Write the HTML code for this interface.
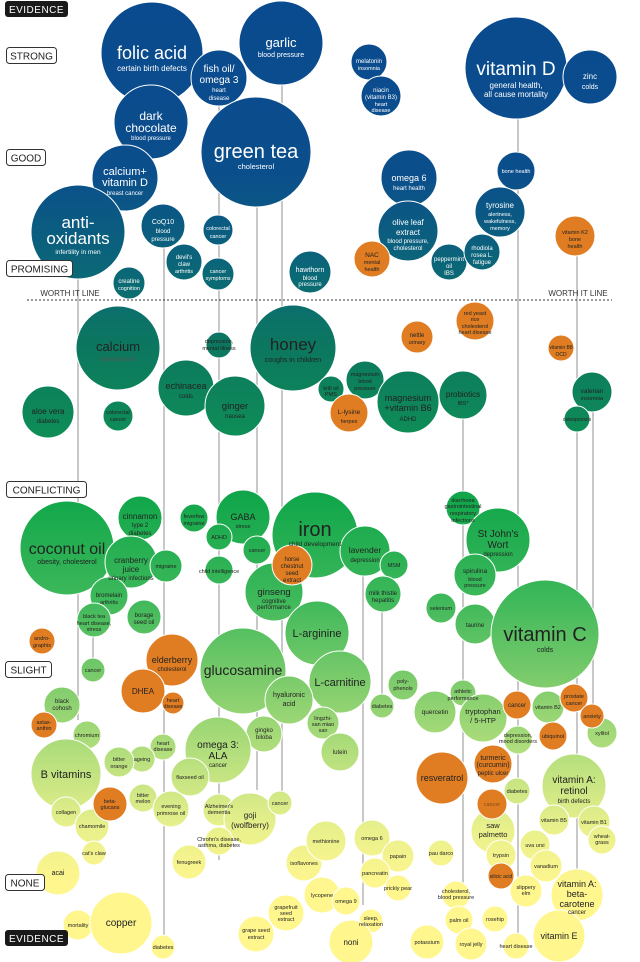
<!DOCTYPE html>
<html><head><meta charset="utf-8"><style>
html,body{margin:0;padding:0;background:#fff}
svg{display:block}
text{font-family:"Liberation Sans",sans-serif;text-anchor:middle}
.w{fill:#fff}.d{fill:#222}.g{fill:#555}
.ln{stroke:#aaa;stroke-width:1.3}
.o{fill:#e07d22}
.c{fill:url(#gr)}
</style></head><body>
<svg width="640" height="962" viewBox="0 0 640 962" xmlns="http://www.w3.org/2000/svg">
<defs><linearGradient id="gr" gradientUnits="userSpaceOnUse" x1="0" y1="0" x2="0" y2="962">
<stop offset="0" stop-color="#0a4a8e"/>
<stop offset="0.18" stop-color="#0b4e8c"/>
<stop offset="0.25" stop-color="#0b5f7e"/>
<stop offset="0.31" stop-color="#0b6e70"/>
<stop offset="0.36" stop-color="#0c775f"/>
<stop offset="0.44" stop-color="#0e8a58"/>
<stop offset="0.52" stop-color="#12a74b"/>
<stop offset="0.62" stop-color="#3cb85a"/>
<stop offset="0.71" stop-color="#7ecc6c"/>
<stop offset="0.79" stop-color="#b8e07e"/>
<stop offset="0.86" stop-color="#e8f08c"/>
<stop offset="0.92" stop-color="#fff68e"/>
<stop offset="1" stop-color="#fff68e"/>
</linearGradient></defs>

<!-- vertical lines -->
<g class="ln">
<line x1="78" y1="232" x2="78" y2="720"/>
<line x1="93" y1="600" x2="93" y2="680"/>
<line x1="164" y1="230" x2="164" y2="945"/>
<line x1="219" y1="80" x2="219" y2="860"/>
<line x1="257" y1="150" x2="257" y2="790"/>
<line x1="282" y1="43" x2="282" y2="800"/>
<line x1="363" y1="550" x2="363" y2="905"/>
<line x1="382" y1="590" x2="382" y2="705"/>
<line x1="463" y1="395" x2="463" y2="900"/>
<line x1="518" y1="68" x2="518" y2="946"/>
<line x1="577" y1="236" x2="577" y2="895"/>
<line x1="593" y1="392" x2="593" y2="716"/>
<line x1="236" y1="730" x2="236" y2="770"/>
</g>

<!-- circles -->
<g class="c" stroke="#fff" stroke-width="1">
<circle cx="152" cy="53" r="51"/><circle cx="219" cy="78" r="28"/><circle cx="281" cy="43" r="42"/>
<circle cx="151" cy="122" r="37"/><circle cx="256" cy="152" r="55"/><circle cx="125" cy="178" r="33"/>
<circle cx="78" cy="232" r="47"/><circle cx="163" cy="226" r="22"/><circle cx="218" cy="230" r="15"/>
<circle cx="184" cy="262" r="18"/><circle cx="218" cy="274" r="16"/><circle cx="129" cy="283" r="16"/>
<circle cx="310" cy="272" r="21"/><circle cx="369" cy="62" r="18"/><circle cx="381" cy="96" r="20"/>
<circle cx="516" cy="68" r="51"/><circle cx="590" cy="77" r="27"/><circle cx="516" cy="171" r="19"/>
<circle cx="409" cy="178" r="28"/><circle cx="500" cy="212" r="25"/><circle cx="408" cy="231" r="30"/>
<circle cx="449" cy="262" r="18"/><circle cx="482" cy="252" r="18"/>
<circle cx="118" cy="348" r="42"/><circle cx="293" cy="348" r="43"/><circle cx="219" cy="345" r="13"/>
<circle cx="186" cy="388" r="28"/><circle cx="235" cy="406" r="30"/><circle cx="48" cy="412" r="26"/>
<circle cx="118" cy="416" r="15"/><circle cx="331" cy="389" r="13"/><circle cx="365" cy="380" r="19"/>
<circle cx="408" cy="402" r="31"/><circle cx="463" cy="395" r="24"/><circle cx="592" cy="392" r="20"/>
<circle cx="577" cy="419" r="13"/>
<circle cx="67" cy="548" r="47"/><circle cx="140" cy="518" r="22"/><circle cx="194" cy="518" r="14"/>
<circle cx="243" cy="517" r="27"/><circle cx="219" cy="537" r="13"/><circle cx="257" cy="550" r="14"/>
<circle cx="315" cy="535" r="43"/><circle cx="365" cy="551" r="25"/><circle cx="394" cy="565" r="14"/>
<circle cx="131" cy="562" r="26"/><circle cx="166" cy="566" r="16"/><circle cx="219" cy="570" r="14"/>
<circle cx="274" cy="592" r="29"/><circle cx="383" cy="594" r="18"/><circle cx="463" cy="508" r="17"/>
<circle cx="498" cy="540" r="32"/><circle cx="475" cy="575" r="21"/><circle cx="109" cy="596" r="19"/>
<circle cx="144" cy="617" r="17"/><circle cx="94" cy="620" r="17"/><circle cx="441" cy="608" r="15"/>
<circle cx="475" cy="624" r="20"/><circle cx="545" cy="634" r="54"/>
<circle cx="317" cy="633" r="32"/><circle cx="243" cy="671" r="43"/><circle cx="93" cy="670" r="12"/>
<circle cx="340" cy="682" r="31"/><circle cx="403" cy="685" r="15"/><circle cx="289" cy="700" r="24"/>
<circle cx="62" cy="705" r="18"/><circle cx="382" cy="706" r="12"/><circle cx="463" cy="693" r="13"/>
<circle cx="435" cy="712" r="21"/><circle cx="483" cy="718" r="24"/><circle cx="548" cy="707" r="16"/>
<circle cx="602" cy="733" r="15"/><circle cx="87" cy="735" r="14"/><circle cx="518" cy="740" r="14"/>
<circle cx="264" cy="734" r="18"/><circle cx="163" cy="747" r="13"/><circle cx="142" cy="759" r="13"/>
<circle cx="323" cy="723" r="16"/><circle cx="218" cy="750" r="33"/><circle cx="340" cy="752" r="19"/>
<circle cx="119" cy="762" r="15"/><circle cx="66" cy="774" r="35"/><circle cx="190" cy="777" r="19"/>
<circle cx="517" cy="791" r="13"/><circle cx="574" cy="786" r="32"/>
<circle cx="143" cy="798" r="14"/><circle cx="66" cy="812" r="15"/><circle cx="92" cy="826" r="17"/>
<circle cx="171" cy="809" r="18"/><circle cx="219" cy="810" r="16"/><circle cx="250" cy="819" r="26"/>
<circle cx="280" cy="803" r="12"/><circle cx="219" cy="841" r="14"/><circle cx="94" cy="853" r="12"/>
<circle cx="189" cy="862" r="17"/><circle cx="58" cy="873" r="22"/><circle cx="78" cy="925" r="15"/>
<circle cx="121" cy="923" r="31"/><circle cx="163" cy="947" r="12"/><circle cx="256" cy="934" r="18"/>
<circle cx="286" cy="913" r="18"/><circle cx="304" cy="863" r="18"/><circle cx="322" cy="895" r="18"/>
<circle cx="326" cy="841" r="20"/><circle cx="372" cy="838" r="18"/><circle cx="398" cy="856" r="16"/>
<circle cx="375" cy="873" r="15"/><circle cx="398" cy="888" r="13"/><circle cx="441" cy="853" r="13"/>
<circle cx="346" cy="901" r="14"/><circle cx="456" cy="895" r="14"/><circle cx="371" cy="921" r="12"/>
<circle cx="351" cy="942" r="22"/><circle cx="427" cy="942" r="17"/><circle cx="459" cy="920" r="14"/>
<circle cx="471" cy="944" r="16"/><circle cx="495" cy="919" r="13"/><circle cx="516" cy="946" r="13"/>
<circle cx="493" cy="831" r="22"/><circle cx="535" cy="845" r="15"/><circle cx="501" cy="855" r="15"/>
<circle cx="546" cy="866" r="16"/><circle cx="526" cy="891" r="16"/><circle cx="577" cy="895" r="26"/>
<circle cx="559" cy="936" r="26"/><circle cx="554" cy="820" r="15"/><circle cx="594" cy="822" r="16"/>
<circle cx="602" cy="840" r="14"/>
</g>
<g class="o" stroke="#fff" stroke-width="1">
<circle cx="372" cy="259" r="18"/><circle cx="575" cy="236" r="20"/><circle cx="475" cy="321" r="19"/>
<circle cx="417" cy="337" r="16"/><circle cx="561" cy="348" r="13"/><circle cx="349" cy="413" r="19"/>
<circle cx="292" cy="565" r="20"/><circle cx="42" cy="641" r="13"/><circle cx="172" cy="660" r="26"/>
<circle cx="143" cy="691" r="22"/><circle cx="173" cy="703" r="11"/><circle cx="44" cy="725" r="13"/>
<circle cx="517" cy="705" r="14"/><circle cx="574" cy="698" r="14"/><circle cx="592" cy="716" r="12"/>
<circle cx="553" cy="736" r="14"/><circle cx="442" cy="778" r="26"/><circle cx="493" cy="764" r="19"/>
<circle cx="492" cy="804" r="15"/><circle cx="110" cy="804" r="17"/><circle cx="501" cy="876" r="13"/>
</g>

<!-- worth it line -->
<line x1="27" y1="300" x2="612" y2="300" stroke="#333" stroke-width="1" stroke-dasharray="2,2"/>
<text x="70" y="296" style="font-size:8px;fill:#333">WORTH IT LINE</text>
<text x="578" y="296" style="font-size:8px;fill:#333">WORTH IT LINE</text>

<!-- axis labels -->
<rect x="5" y="1" width="63" height="16" rx="3" fill="#1a1a1a"/><text x="36.5" y="13" style="font-size:10px;fill:#fff;letter-spacing:.5px">EVIDENCE</text>
<rect x="6.5" y="47.5" width="50" height="16" rx="3" fill="#fff" stroke="#333"/><text x="31.5" y="59.5" style="font-size:10px;fill:#222">STRONG</text>
<rect x="6.5" y="149.5" width="39" height="16" rx="3" fill="#fff" stroke="#333"/><text x="26" y="161.5" style="font-size:10px;fill:#222">GOOD</text>
<rect x="6.5" y="260.5" width="66" height="16" rx="3" fill="#fff" stroke="#333"/><text x="39.5" y="272.5" style="font-size:10px;fill:#222">PROMISING</text>
<rect x="6.5" y="481.5" width="80" height="16" rx="3" fill="#fff" stroke="#333"/><text x="46.5" y="493.5" style="font-size:10px;fill:#222">CONFLICTING</text>
<rect x="5.5" y="661.5" width="46" height="16" rx="3" fill="#fff" stroke="#333"/><text x="28.5" y="673.5" style="font-size:10px;fill:#222">SLIGHT</text>
<rect x="5.5" y="874.5" width="39" height="16" rx="3" fill="#fff" stroke="#333"/><text x="25" y="886.5" style="font-size:10px;fill:#222">NONE</text>
<rect x="5" y="930" width="63" height="16" rx="3" fill="#1a1a1a"/><text x="36.5" y="942" style="font-size:10px;fill:#fff;letter-spacing:.5px">EVIDENCE</text>

<!-- labels: dark blue/teal zone -->
<g class="w">
<text x="152" y="59" font-size="18">folic acid</text><text x="152" y="71" font-size="8">certain birth defects</text>
<text x="219" y="72" font-size="10">fish oil/</text><text x="219" y="83" font-size="10">omega 3</text><text x="219" y="92" font-size="6">heart</text><text x="219" y="100" font-size="6">disease</text>
<text x="281" y="47" font-size="13">garlic</text><text x="281" y="57" font-size="7">blood pressure</text>
<text x="151" y="120" font-size="12">dark</text><text x="151" y="132" font-size="12">chocolate</text><text x="151" y="140" font-size="6">blood pressure</text>
<text x="256" y="158" font-size="20">green tea</text><text x="256" y="169" font-size="7.5">cholesterol</text>
<text x="125" y="175" font-size="11">calcium+</text><text x="125" y="186" font-size="11">vitamin D</text><text x="125" y="195" font-size="6">breast cancer</text>
<text x="78" y="228" font-size="17">anti-</text><text x="78" y="244" font-size="17">oxidants</text><text x="78" y="254" font-size="6.5">infertility in men</text>
<text x="163" y="224" font-size="7">CoQ10</text><text x="163" y="233" font-size="6">blood</text><text x="163" y="241" font-size="6">pressure</text>
<text x="218" y="230" font-size="5.5">colorectal</text><text x="218" y="238" font-size="5.5">cancer</text>
<text x="184" y="259" font-size="6">devil's</text><text x="184" y="266" font-size="6">claw</text><text x="184" y="273" font-size="5.5">arthritis</text>
<text x="218" y="273" font-size="5.5">cancer</text><text x="218" y="280" font-size="5.5">symptoms</text>
<text x="129" y="283" font-size="6">creatine</text><text x="129" y="290" font-size="5.5">cognition</text>
<text x="310" y="272" font-size="7">hawthorn</text><text x="310" y="280" font-size="6">blood</text><text x="310" y="286" font-size="6">pressure</text>
<text x="369" y="63" font-size="6">melatonin</text><text x="369" y="70" font-size="5.5">insomnia</text>
<text x="381" y="92" font-size="6">niacin</text><text x="381" y="99" font-size="6">(vitamin B3)</text><text x="381" y="106" font-size="5.5">heart</text><text x="381" y="112" font-size="5.5">disease</text>
<text x="516" y="75" font-size="19">vitamin D</text><text x="516" y="88" font-size="8">general health,</text><text x="516" y="97" font-size="8">all cause mortality</text>
<text x="590" y="79" font-size="8">zinc</text><text x="590" y="89" font-size="7">colds</text>
<text x="516" y="173" font-size="5.5">bone health</text>
<text x="409" y="181" font-size="9">omega 6</text><text x="409" y="190" font-size="6">heart health</text>
<text x="500" y="208" font-size="8">tyrosine</text><text x="500" y="216" font-size="5.5">alertness,</text><text x="500" y="223" font-size="5.5">wakefulness,</text><text x="500" y="230" font-size="5.5">memory</text>
<text x="408" y="225" font-size="8">olive leaf</text><text x="408" y="235" font-size="8">extract</text><text x="408" y="243" font-size="6">blood pressure,</text><text x="408" y="250" font-size="6">cholesterol</text>
<text x="449" y="261" font-size="6">peppermint</text><text x="449" y="268" font-size="6">oil</text><text x="449" y="275" font-size="6">IBS</text>
<text x="482" y="250" font-size="6">rhodiola</text><text x="482" y="257" font-size="6">rosea L.</text><text x="482" y="264" font-size="6">fatigue</text>
</g>
<g class="d">
<text x="372" y="257" font-size="6.5">NAC</text><text x="372" y="264" font-size="5.5">mental</text><text x="372" y="271" font-size="5.5">health</text>
<text x="575" y="234" font-size="5.5">vitamin K2</text><text x="575" y="241" font-size="5.5">bone</text><text x="575" y="248" font-size="5.5">health</text>
<text x="475" y="315" font-size="5.5">red yeast</text><text x="475" y="321" font-size="5.5">rice</text><text x="475" y="328" font-size="5.5">cholesterol</text><text x="475" y="334" font-size="5.5">heart disease</text>
<text x="417" y="337" font-size="6">nettle</text><text x="417" y="344" font-size="5.5">urinary</text>
<text x="561" y="349" font-size="5">vitamin B8</text><text x="561" y="356" font-size="5">OCD</text>
<text x="349" y="414" font-size="6.5">L-lysine</text><text x="349" y="423" font-size="5.5">herpes</text>
<text x="292" y="561" font-size="6">horse</text><text x="292" y="568" font-size="6">chestnut</text><text x="292" y="575" font-size="6">seed</text><text x="292" y="582" font-size="6">extract</text>
<text x="42" y="640" font-size="5.5">andro-</text><text x="42" y="647" font-size="5.5">graphis</text>
<text x="172" y="663" font-size="9">elderberry</text><text x="172" y="671" font-size="6">cholesterol</text>
<text x="143" y="694" font-size="8">DHEA</text>
<text x="173" y="702" font-size="5.5">heart</text><text x="173" y="708" font-size="5.5">disease</text>
<text x="44" y="724" font-size="5.5">astax-</text><text x="44" y="730" font-size="5.5">anthin</text>
<text x="517" y="707" font-size="6">cancer</text>
<text x="574" y="698" font-size="5.5">prostate</text><text x="574" y="705" font-size="5.5">cancer</text>
<text x="592" y="718" font-size="5.5">anxiety</text>
<text x="553" y="738" font-size="5.5">ubiquinol</text>
<text x="442" y="781" font-size="9">resveratrol</text>
<text x="493" y="760" font-size="7">turmeric</text><text x="493" y="767" font-size="7">(curcumin)</text><text x="493" y="775" font-size="6">peptic ulcer</text>
<text x="492" y="806" font-size="5.5" fill="#8a4a10">cancer</text>
<text x="110" y="803" font-size="5.5">beta-</text><text x="110" y="809" font-size="5.5">glucans</text>
<text x="501" y="878" font-size="5">silicic acid</text>
</g>
<g class="d">
<text x="118" y="351" font-size="13">calcium</text><text x="118" y="361" font-size="6.5" class="g">osteoporosis</text>
<text x="293" y="350" font-size="17">honey</text><text x="293" y="362" font-size="7">coughs in children</text>
<text x="219" y="343" font-size="5.5">depression,</text><text x="219" y="350" font-size="5.5">mental illness</text>
<text x="186" y="389" font-size="9">echinacea</text><text x="186" y="398" font-size="6">colds</text>
<text x="235" y="409" font-size="9.5">ginger</text><text x="235" y="418" font-size="6">nausea</text>
<text x="48" y="414" font-size="8">aloe vera</text><text x="48" y="423" font-size="6">diabetes</text>
<text x="118" y="414" font-size="5.5">colorectal</text><text x="118" y="421" font-size="5.5">cancer</text>
<text x="331" y="390" font-size="5.5">krill oil</text><text x="331" y="396" font-size="5.5">PMS</text>
<text x="365" y="376" font-size="5.5">magnesium</text><text x="365" y="383" font-size="5.5">blood</text><text x="365" y="390" font-size="5.5">pressure</text>
<text x="408" y="401" font-size="9">magnesium</text><text x="408" y="411" font-size="9">+vitamin B6</text><text x="408" y="421" font-size="6">ADHD</text>
<text x="463" y="397" font-size="8">probiotics</text><text x="463" y="405" font-size="5.5">IBS*</text>
<text x="592" y="393" font-size="6.5">valerian</text><text x="592" y="400" font-size="5.5">insomnia</text>
<text x="577" y="421" font-size="5">osteoporosis</text>
<text x="67" y="554" font-size="16">coconut oil</text><text x="67" y="564" font-size="7">obesity, cholesterol</text>
<text x="140" y="519" font-size="8">cinnamon</text><text x="140" y="527" font-size="6">type 2</text><text x="140" y="535" font-size="6">diabetes</text>
<text x="194" y="518" font-size="5.5">feverfew</text><text x="194" y="525" font-size="5.5">migraine</text>
<text x="243" y="520" font-size="9">GABA</text><text x="243" y="528" font-size="5.5">stress</text>
<text x="219" y="539" font-size="5.5">ADHD</text>
<text x="257" y="552" font-size="5.5">cancer</text>
<text x="315" y="536" font-size="20">iron</text><text x="315" y="546" font-size="6.5">child development</text>
<text x="365" y="553" font-size="8.5">lavender</text><text x="365" y="562" font-size="6">depression</text>
<text x="394" y="567" font-size="5.5">MSM</text>
<text x="131" y="563" font-size="8">cranberry</text><text x="131" y="572" font-size="8">juice</text><text x="131" y="580" font-size="6">urinary infections</text>
<text x="166" y="568" font-size="5.5">migraine</text>
<text x="219" y="573" font-size="5.5">child intelligence</text>
<text x="274" y="595" font-size="9.5">ginseng</text><text x="274" y="603" font-size="6">cognitive</text><text x="274" y="609" font-size="6">performance</text>
<text x="383" y="595" font-size="6">milk thistle</text><text x="383" y="602" font-size="6">hepatitis</text>
<text x="463" y="502" font-size="5.5">diarrhoea</text><text x="463" y="508" font-size="5.5">gastrointestinal</text><text x="463" y="515" font-size="5.5">respiratory</text><text x="463" y="522" font-size="5.5">infections</text>
<text x="498" y="537" font-size="10">St John's</text><text x="498" y="548" font-size="10">Wort</text><text x="498" y="556" font-size="6">depression</text>
<text x="475" y="573" font-size="6.5">spirulina</text><text x="475" y="581" font-size="5.5">blood</text><text x="475" y="587" font-size="5.5">pressure</text>
<text x="109" y="597" font-size="6">bromelain</text><text x="109" y="604" font-size="5.5">arthritis</text>
<text x="144" y="617" font-size="6">borage</text><text x="144" y="624" font-size="6">seed oil</text>
<text x="94" y="618" font-size="5.5">black tea</text><text x="94" y="625" font-size="5.5">heart disease,</text><text x="94" y="631" font-size="5.5">stress</text>
<text x="441" y="610" font-size="5.5">selenium</text>
<text x="475" y="627" font-size="6">taurine</text>
<text x="545" y="641" font-size="20">vitamin C</text><text x="545" y="652" font-size="7">colds</text>
<text x="317" y="637" font-size="11">L-arginine</text>
<text x="243" y="675" font-size="14">glucosamine</text>
<text x="93" y="672" font-size="5.5">cancer</text>
<text x="340" y="686" font-size="11">L-carnitine</text>
<text x="403" y="683" font-size="5.5">poly-</text><text x="403" y="690" font-size="5.5">phenols</text>
<text x="289" y="697" font-size="7">hyaluronic</text><text x="289" y="706" font-size="7">acid</text>
<text x="62" y="703" font-size="6">black</text><text x="62" y="710" font-size="6">cohosh</text>
<text x="382" y="708" font-size="5.5">diabetes</text>
<text x="463" y="693" font-size="5.5">athletic</text><text x="463" y="700" font-size="5.5">performance</text>
<text x="435" y="714" font-size="6.5">quercetin</text>
<text x="483" y="714" font-size="7.5">tryptophan</text><text x="483" y="723" font-size="7.5">/ 5-HTP</text>
<text x="548" y="709" font-size="5.5">vitamin B2</text>
<text x="602" y="735" font-size="5.5">xylitol</text>
<text x="87" y="737" font-size="5.5">chromium</text>
<text x="518" y="737" font-size="5.5">depression,</text><text x="518" y="743" font-size="5.5">mood disorders</text>
<text x="264" y="732" font-size="6">gingko</text><text x="264" y="739" font-size="6">biloba</text>
<text x="163" y="745" font-size="5.5">heart</text><text x="163" y="751" font-size="5.5">disease</text>
<text x="142" y="761" font-size="5.5">ageing</text>
<text x="323" y="720" font-size="5.5">lingzhi-</text><text x="323" y="726" font-size="5.5">san miao</text><text x="323" y="732" font-size="5.5">san</text>
<text x="218" y="748" font-size="10">omega 3:</text><text x="218" y="759" font-size="10">ALA</text><text x="218" y="767" font-size="6">cancer</text>
<text x="340" y="754" font-size="6">lutein</text>
<text x="119" y="761" font-size="5.5">bitter</text><text x="119" y="768" font-size="5.5">orange</text>
<text x="66" y="778" font-size="11">B vitamins</text>
<text x="190" y="779" font-size="5.5">flaxseed oil</text>
<text x="517" y="793" font-size="5.5">diabetes</text>
<text x="574" y="783" font-size="10">vitamin A:</text><text x="574" y="794" font-size="10">retinol</text><text x="574" y="803" font-size="6">birth defects</text>
<text x="143" y="797" font-size="5.5">bitter</text><text x="143" y="803" font-size="5.5">melon</text>
<text x="66" y="814" font-size="5.5">collagen</text>
<text x="92" y="828" font-size="5.5">chamomile</text>
<text x="171" y="808" font-size="5.5">evening</text><text x="171" y="815" font-size="5.5">primrose oil</text>
<text x="219" y="808" font-size="5.5">Alzheimer's</text><text x="219" y="814" font-size="5.5">dementia</text>
<text x="250" y="818" font-size="8">goji</text><text x="250" y="828" font-size="8">(wolfberry)</text>
<text x="280" y="805" font-size="5.5">cancer</text>
<text x="219" y="841" font-size="5.5">Chrohn's disease,</text><text x="219" y="847" font-size="5.5">asthma, diabetes</text>
<text x="94" y="855" font-size="5.5">cat's claw</text>
<text x="189" y="864" font-size="5.5">fenugreek</text>
<text x="58" y="875" font-size="7">acai</text>
<text x="78" y="927" font-size="5.5">mortality</text>
<text x="121" y="926" font-size="10">copper</text>
<text x="163" y="949" font-size="5.5">diabetes</text>
<text x="256" y="932" font-size="5.5">grape seed</text><text x="256" y="939" font-size="5.5">extract</text>
<text x="286" y="909" font-size="5.5">grapefruit</text><text x="286" y="915" font-size="5.5">seed</text><text x="286" y="921" font-size="5.5">extract</text>
<text x="304" y="865" font-size="5.5">isoflavones</text>
<text x="322" y="897" font-size="5.5">lycopene</text>
<text x="326" y="843" font-size="5.5">methionine</text>
<text x="372" y="840" font-size="5.5">omega 6</text>
<text x="398" y="858" font-size="5.5">papain</text>
<text x="375" y="875" font-size="5.5">pancreatin</text>
<text x="398" y="890" font-size="5.5">prickly pear</text>
<text x="441" y="855" font-size="5.5">pau darco</text>
<text x="346" y="903" font-size="5.5">omega 9</text>
<text x="456" y="893" font-size="5.5">cholesterol,</text><text x="456" y="899" font-size="5.5">blood pressure</text>
<text x="371" y="920" font-size="5.5">sleep,</text><text x="371" y="926" font-size="5.5">relaxation</text>
<text x="351" y="945" font-size="8">noni</text>
<text x="427" y="944" font-size="5.5">potassium</text>
<text x="459" y="922" font-size="5.5">palm oil</text>
<text x="471" y="946" font-size="5.5">royal jelly</text>
<text x="495" y="921" font-size="5.5">rosehip</text>
<text x="516" y="948" font-size="5.5">heart disease</text>
<text x="493" y="828" font-size="7.5">saw</text><text x="493" y="837" font-size="7.5">palmetto</text>
<text x="535" y="847" font-size="5.5">uva ursi</text>
<text x="501" y="857" font-size="5.5">trypsin</text>
<text x="546" y="868" font-size="5.5">vanadium</text>
<text x="526" y="889" font-size="5.5">slippery</text><text x="526" y="895" font-size="5.5">elm</text>
<text x="577" y="887" font-size="9">vitamin A:</text><text x="577" y="897" font-size="9">beta-</text><text x="577" y="907" font-size="9">carotene</text><text x="577" y="914" font-size="6">cancer</text>
<text x="559" y="939" font-size="9">vitamin E</text>
<text x="554" y="822" font-size="5.5">vitamin B5</text>
<text x="594" y="824" font-size="5.5">vitamin B1</text>
<text x="602" y="838" font-size="5.5">wheat-</text><text x="602" y="844" font-size="5.5">grass</text>
</g>
</svg>
</body></html>
